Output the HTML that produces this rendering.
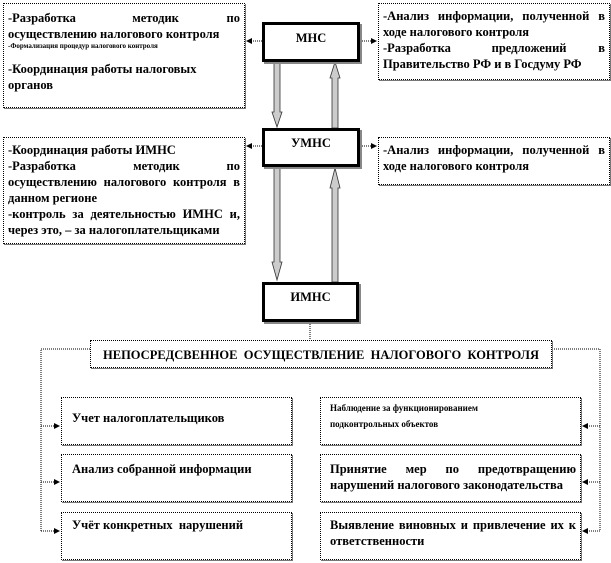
<!DOCTYPE html>
<html><head><meta charset="utf-8"><style>
body{margin:0;width:611px;height:563px;background:#fff;position:relative;overflow:hidden;font-family:"Liberation Serif","Noto Serif CJK SC",serif;font-weight:bold;color:#000}
.b{position:absolute;box-sizing:border-box;border:1px dotted #000;background:#fff;box-shadow:1px 1px 0 #777;font-size:12.5px;line-height:16px;padding:4px 4px 0 4px;text-align:justify;letter-spacing:0}
.m{position:absolute;box-sizing:border-box;border:3px solid #000;background:#fff;box-shadow:2px 2px 0 #888;font-size:12.5px;text-align:center;padding-top:6px}
svg{position:absolute;left:0;top:0}
</style></head><body>
<svg width="611" height="563">
<defs>
<marker id="a" markerWidth="6" markerHeight="6" refX="5" refY="3" orient="auto"><path d="M0,0 L6,3 L0,6z" fill="#000"/></marker>
</defs>
<g stroke="#000" stroke-width="1" stroke-dasharray="1,1" fill="none">
<line x1="262" y1="41" x2="247" y2="41" marker-end="url(#a)"/>
<line x1="360" y1="41" x2="376" y2="41" marker-end="url(#a)"/>
<line x1="262" y1="146" x2="247" y2="146" marker-end="url(#a)"/>
<line x1="360" y1="146" x2="376" y2="146" marker-end="url(#a)"/>
<line x1="310" y1="322" x2="310" y2="340"/>
<polyline points="90,349 41,349 41,531"/>
<polyline points="552,349 600,349 600,531"/>
<line x1="41" y1="426" x2="59" y2="426" marker-end="url(#a)"/>
<line x1="41" y1="482" x2="59" y2="482" marker-end="url(#a)"/>
<line x1="41" y1="531" x2="59" y2="531" marker-end="url(#a)"/>
<line x1="600" y1="426" x2="583" y2="426" marker-end="url(#a)"/>
<line x1="600" y1="482" x2="583" y2="482" marker-end="url(#a)"/>
<line x1="600" y1="531" x2="583" y2="531" marker-end="url(#a)"/>
</g>
<g fill="#ccc" stroke="#333" stroke-width="0.8">
<path d="M274,62 L280,62 L280,112 L282,112 L277,127 L272,112 L274,112z"/>
<path d="M332,128 L338,128 L338,78 L340,78 L335,62 L330,78 L332,78z"/>
<path d="M274,167 L280,167 L280,262 L282,262 L277,280 L272,262 L274,262z"/>
<path d="M332,282 L338,282 L338,188 L340,188 L335,168 L330,188 L332,188z"/>
</g>
</svg>
<div class="b" style="left:3px;top:3px;width:242px;height:105px;padding-top:6px">-Разработка &nbsp; &nbsp; &nbsp; &nbsp; &nbsp; &nbsp; методик &nbsp; &nbsp; &nbsp; &nbsp; &nbsp; по осуществлению налогового контроля<br><span style="font-size:7px;line-height:9px;display:block">-Формализация процедур налогового контроля</span><div style="margin-top:10px;text-align:left">-Координация работы налоговых<br>органов</div></div>
<div class="b" style="left:378px;top:3px;width:232px;height:77px">-Анализ информации, полученной в ходе налогового контроля<br>-Разработка &nbsp; &nbsp; &nbsp; &nbsp; предложений &nbsp; &nbsp; &nbsp; в Правительство РФ и в Госдуму РФ</div>
<div class="m" style="left:262px;top:22px;width:98px;height:40px">МНС</div>
<div class="m" style="left:262px;top:128px;width:98px;height:39px;padding-top:5px">УМНС</div>
<div class="b" style="left:3px;top:137px;width:242px;height:107px">-Координация работы ИМНС<br>-Разработка &nbsp; &nbsp; &nbsp; &nbsp; &nbsp; методик &nbsp; &nbsp; &nbsp; &nbsp; по осуществлению налогового контроля в данном регионе<br>-контроль за деятельностью ИМНС и, через это, – за налогоплательщиками</div>
<div class="b" style="left:378px;top:137px;width:232px;height:48px">-Анализ информации, полученной в ходе налогового контроля</div>
<div class="m" style="left:262px;top:282px;width:97px;height:40px;padding-top:5px">ИМНС</div>
<div class="b" style="left:90px;top:340px;width:462px;height:28px;text-align:center;padding-top:6px">НЕПОСРЕДСВЕННОЕ&nbsp; ОСУЩЕСТВЛЕНИЕ&nbsp; НАЛОГОВОГО&nbsp; КОНТРОЛЯ</div>
<div class="b" style="left:61px;top:397px;width:231px;height:48px;padding:12px 0 0 10px">Учет налогоплательщиков</div>
<div class="b" style="left:61px;top:454px;width:231px;height:48px;padding:6px 0 0 10px">Анализ собранной информации</div>
<div class="b" style="left:61px;top:512px;width:231px;height:48px;padding:4px 0 0 10px">Учёт конкретных &nbsp;нарушений</div>
<div class="b" style="left:320px;top:397px;width:261px;height:48px;padding:2px 60px 0 9px;font-size:9px;text-align:left">Наблюдение за функционированием<br>подконтрольных объектов</div>
<div class="b" style="left:320px;top:454px;width:261px;height:48px;padding:6px 4px 0 9px">Принятие мер по предотвращению нарушений налогового законодательства</div>
<div class="b" style="left:320px;top:512px;width:261px;height:48px;padding:4px 4px 0 9px">Выявление виновных и привлечение их к ответственности</div>
</body></html>
